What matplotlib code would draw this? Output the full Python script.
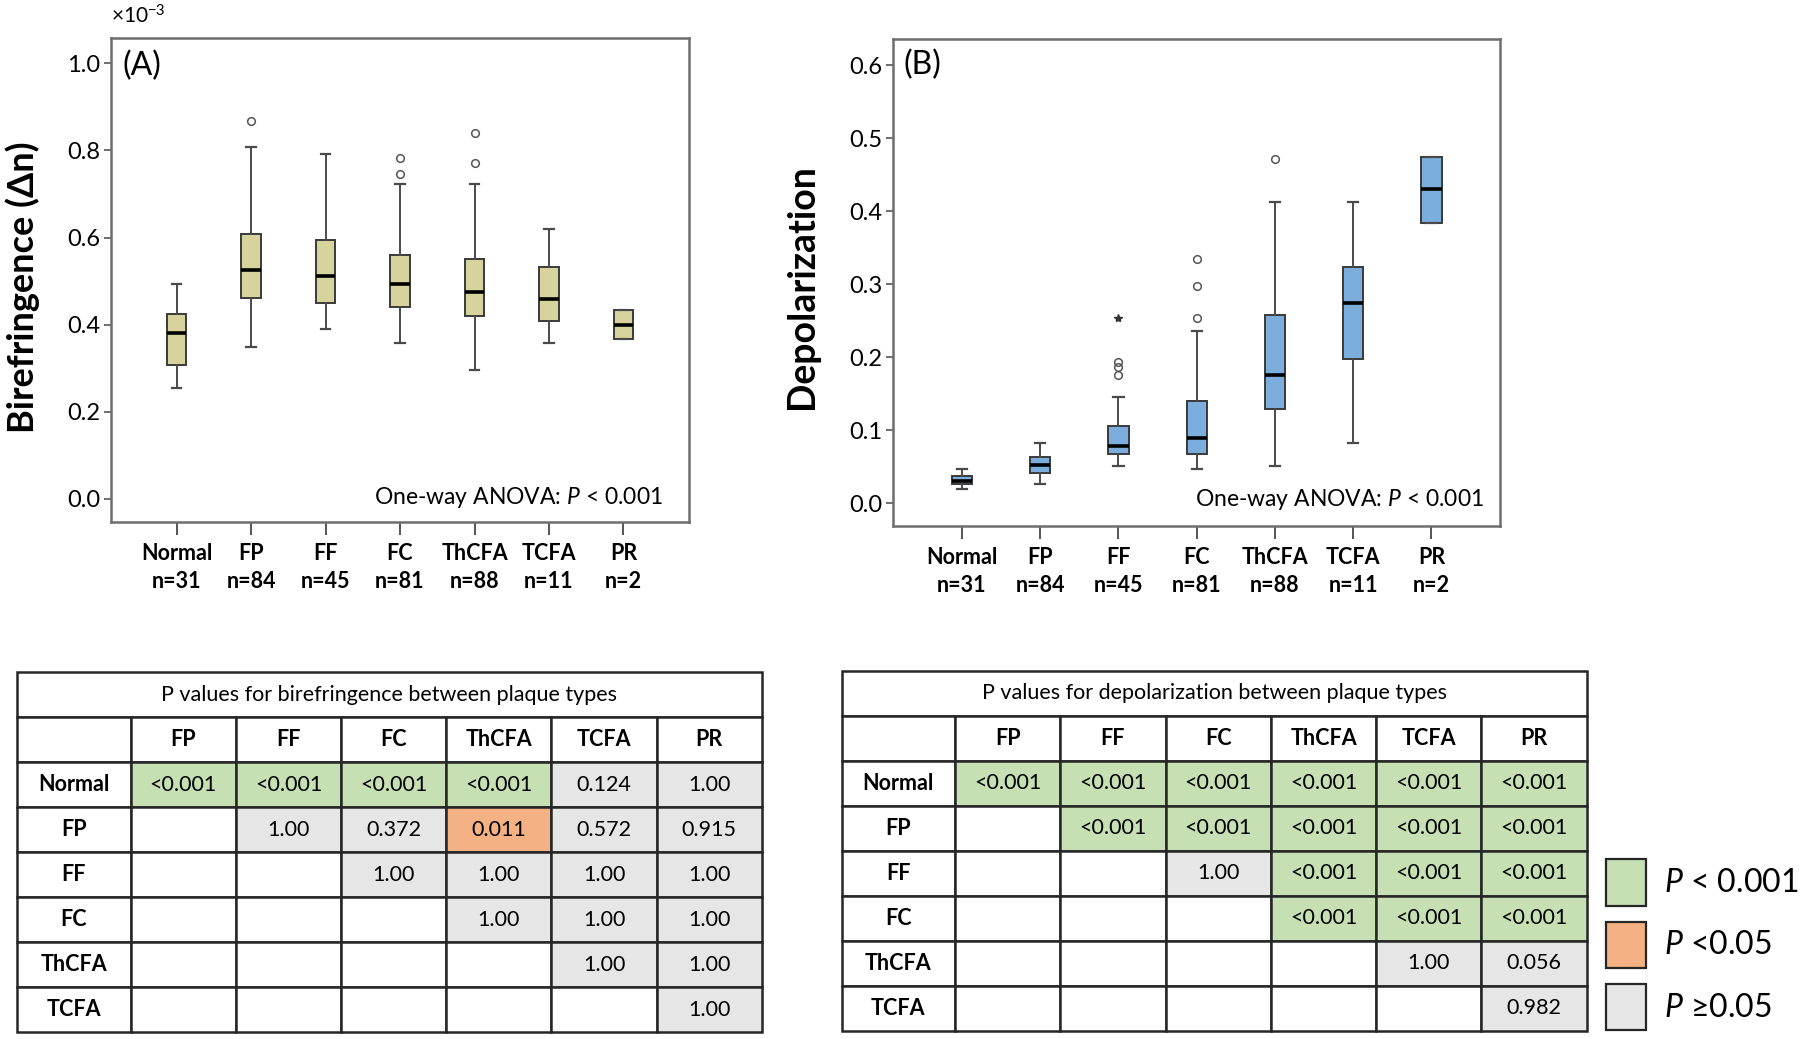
import matplotlib
matplotlib.use('Agg')
import matplotlib.pyplot as plt
from matplotlib.patches import Rectangle
import numpy as np

plt.rcParams['font.family'] = ['Lato', 'DejaVu Sans']
plt.rcParams['mathtext.fontset'] = 'custom'
plt.rcParams['mathtext.rm'] = 'Lato'
plt.rcParams['mathtext.it'] = 'Lato:italic'
plt.rcParams['mathtext.bf'] = 'Lato:bold'

groups = ['Normal', 'FP', 'FF', 'FC', 'ThCFA', 'TCFA', 'PR']
group_n = [31, 84, 45, 81, 88, 11, 2]

# birefringence (x10^-3): whisker low, Q1, median, Q3, whisker high, outliers
bire_low = [0.254, 0.348, 0.390, 0.357, 0.296, 0.357, 0.366]
bire_q1 = [0.307, 0.461, 0.450, 0.441, 0.419, 0.408, 0.366]
bire_med = [0.382, 0.526, 0.511, 0.493, 0.476, 0.459, 0.399]
bire_q3 = [0.424, 0.608, 0.594, 0.560, 0.551, 0.532, 0.434]
bire_high = [0.493, 0.807, 0.791, 0.722, 0.722, 0.619, 0.434]
bire_out = [[], [0.867], [], [0.747, 0.782], [0.772, 0.840], [], []]

# depolarization
depol_low = [0.019, 0.027, 0.051, 0.047, 0.051, 0.082, 0.384]
depol_q1 = [0.027, 0.042, 0.067, 0.067, 0.129, 0.198, 0.384]
depol_med = [0.031, 0.053, 0.079, 0.090, 0.175, 0.274, 0.430]
depol_q3 = [0.038, 0.063, 0.106, 0.140, 0.258, 0.324, 0.474]
depol_high = [0.047, 0.083, 0.145, 0.236, 0.412, 0.412, 0.474]
depol_out = [[], [], [0.176, 0.186, 0.194], [0.254, 0.298, 0.334], [0.471], [], []]
depol_extreme = [[], [], [0.254], [], [], [], []]

# pairwise p values
table_rows = ['Normal', 'FP', 'FF', 'FC', 'ThCFA', 'TCFA']
table_cols = ['FP', 'FF', 'FC', 'ThCFA', 'TCFA', 'PR']
bire_p = [['<0.001', '<0.001', '<0.001', '<0.001', '0.124', '1.00'],
          ['', '1.00', '0.372', '0.011', '0.572', '0.915'],
          ['', '', '1.00', '1.00', '1.00', '1.00'],
          ['', '', '', '1.00', '1.00', '1.00'],
          ['', '', '', '', '1.00', '1.00'],
          ['', '', '', '', '', '1.00']]
depol_p = [['<0.001', '<0.001', '<0.001', '<0.001', '<0.001', '<0.001'],
           ['', '<0.001', '<0.001', '<0.001', '<0.001', '<0.001'],
           ['', '', '1.00', '<0.001', '<0.001', '<0.001'],
           ['', '', '', '<0.001', '<0.001', '<0.001'],
           ['', '', '', '', '1.00', '0.056'],
           ['', '', '', '', '', '0.982']]

legend_labels = ['$\\mathit{P}$ < 0.001', '$\\mathit{P}$ <0.05', '$\\mathit{P}$ \u22650.05']
legend_colors = ['#C6E0B4', '#F4B183', '#E6E6E6']

line_col = '#262626'


def cell_color(v):
    if v == '':
        return 'white'
    if v.startswith('<'):
        return legend_colors[0]
    if float(v) < 0.05:
        return legend_colors[1]
    return legend_colors[2]


def boxplot(ax, low, q1, med, q3, high, out, color):
    stats = []
    for i in range(len(groups)):
        stats.append(dict(whislo=low[i], q1=q1[i], med=med[i], q3=q3[i], whishi=high[i], fliers=out[i]))
    ax.bxp(stats, positions=range(len(groups)), widths=0.26, capwidths=0.13, patch_artist=True,
           boxprops=dict(facecolor=color, edgecolor='#3a3a3a', linewidth=1.4),
           medianprops=dict(color='black', linewidth=2.6),
           whiskerprops=dict(color='#4a4a4a', linewidth=1.4),
           capprops=dict(color='#4a4a4a', linewidth=1.6),
           flierprops=dict(marker='o', markerfacecolor='none', markeredgecolor='#555555',
                           markersize=5.5, markeredgewidth=1.1))


def style(ax, ylim, yticks):
    ax.set_xlim(-0.88, 6.88)
    ax.set_ylim(*ylim)
    ax.set_yticks(yticks)
    ax.set_yticklabels([f'{t:.1f}' for t in yticks], fontsize=17)
    ax.set_xticks(range(len(groups)))
    ax.set_xticklabels([f'{g}\nn={n}' for g, n in zip(groups, group_n)],
                       fontweight='bold', fontsize=15.5, linespacing=1.45)
    for s in ax.spines.values():
        s.set_color('#6e6e6e')
        s.set_linewidth(1.8)
    ax.tick_params(axis='x', length=9, width=1.4, color='#555555', pad=6)
    ax.tick_params(axis='y', length=5, width=1.2, color='#555555', pad=3)


def table(ax, title, values):
    col_w = [1.08] + [1] * len(table_cols)
    edges = np.concatenate([[0], np.cumsum(col_w)])
    total = edges[-1]
    ax.set_xlim(0, total)
    ax.set_ylim(len(table_rows) + 2, 0)
    ax.axis('off')
    ax.add_patch(Rectangle((0, 0), total, 1, fc='white', ec=line_col, lw=1.8, clip_on=False))
    ax.text(total / 2, 0.5, title, ha='center', va='center', fontsize=15.5)
    for j, c in enumerate([''] + table_cols):
        ax.add_patch(Rectangle((edges[j], 1), col_w[j], 1, fc='white', ec=line_col, lw=1.8, clip_on=False))
        ax.text(edges[j] + col_w[j] / 2, 1.5, c, ha='center', va='center', fontsize=15.5, fontweight='bold')
    for i, r in enumerate(table_rows):
        ax.add_patch(Rectangle((0, i + 2), col_w[0], 1, fc='white', ec=line_col, lw=1.8, clip_on=False))
        ax.text(col_w[0] / 2, i + 2.5, r, ha='center', va='center', fontsize=15.5, fontweight='bold')
        for j, v in enumerate(values[i]):
            ax.add_patch(Rectangle((edges[j + 1], i + 2), col_w[j + 1], 1, fc=cell_color(v),
                                   ec=line_col, lw=1.8, clip_on=False))
            ax.text(edges[j + 1] + col_w[j + 1] / 2, i + 2.5, v, ha='center', va='center', fontsize=15.5)


fig = plt.figure(figsize=(18, 10.39), dpi=100)

# (A) birefringence
ax1 = fig.add_axes([0.0617, 0.4976, 0.3211, 0.4658])
boxplot(ax1, bire_low, bire_q1, bire_med, bire_q3, bire_high, bire_out, '#D7D39D')
style(ax1, (-0.053, 1.058), [0.0, 0.2, 0.4, 0.6, 0.8, 1.0])
ax1.text(0.02, 0.943, '(A)', transform=ax1.transAxes, ha='left', va='center', fontsize=23)
ax1.text(0.955, 0.05, 'One-way ANOVA: $\\mathit{P}$ < 0.001', transform=ax1.transAxes,
         ha='right', va='center', fontsize=16.5)
ax1.text(0.0, 1.045, '\u00d710$^{-3}$', transform=ax1.transAxes, ha='left', va='center', fontsize=15)
fig.text(0.0128, 0.724, 'Birefringence (\u0394n)', rotation=90, ha='center', va='center',
         fontsize=26, fontweight='bold')

# (B) depolarization
ax2 = fig.add_axes([0.4962, 0.4938, 0.3373, 0.4682])
boxplot(ax2, depol_low, depol_q1, depol_med, depol_q3, depol_high, depol_out, '#7BAEDC')
for i, ex in enumerate(depol_extreme):
    ax2.plot([i] * len(ex), ex, linestyle='none', marker='*', color='#333333', markersize=6)
style(ax2, (-0.031, 0.635), [0.0, 0.1, 0.2, 0.3, 0.4, 0.5, 0.6])
ax2.text(0.017, 0.948, '(B)', transform=ax2.transAxes, ha='left', va='center', fontsize=23)
ax2.text(0.973, 0.054, 'One-way ANOVA: $\\mathit{P}$ < 0.001', transform=ax2.transAxes,
         ha='right', va='center', fontsize=16.5)
fig.text(0.4457, 0.724, 'Depolarization', rotation=90, ha='center', va='center',
         fontsize=27, fontweight='bold')

# p value tables
t1 = fig.add_axes([0.0094, 0.0067, 0.4139, 0.3465])
table(t1, 'P values for birefringence between plaque types', bire_p)
t2 = fig.add_axes([0.4675, 0.0077, 0.4139, 0.3465])
table(t2, 'P values for depolarization between plaque types', depol_p)

# colour key
lg = fig.add_axes([0.889, 0.0, 0.111, 0.18])
lg.set_xlim(0, 1)
lg.set_ylim(len(legend_labels), 0)
lg.axis('off')
for i, (lab, col) in enumerate(zip(legend_labels, legend_colors)):
    lg.add_patch(Rectangle((0.03, i + 0.12), 0.2, 0.74, fc=col, ec=line_col, lw=1.6, clip_on=False))
    lg.text(0.32, i + 0.5, lab, ha='left', va='center', fontsize=23)

fig.savefig('out.png', dpi=100)
